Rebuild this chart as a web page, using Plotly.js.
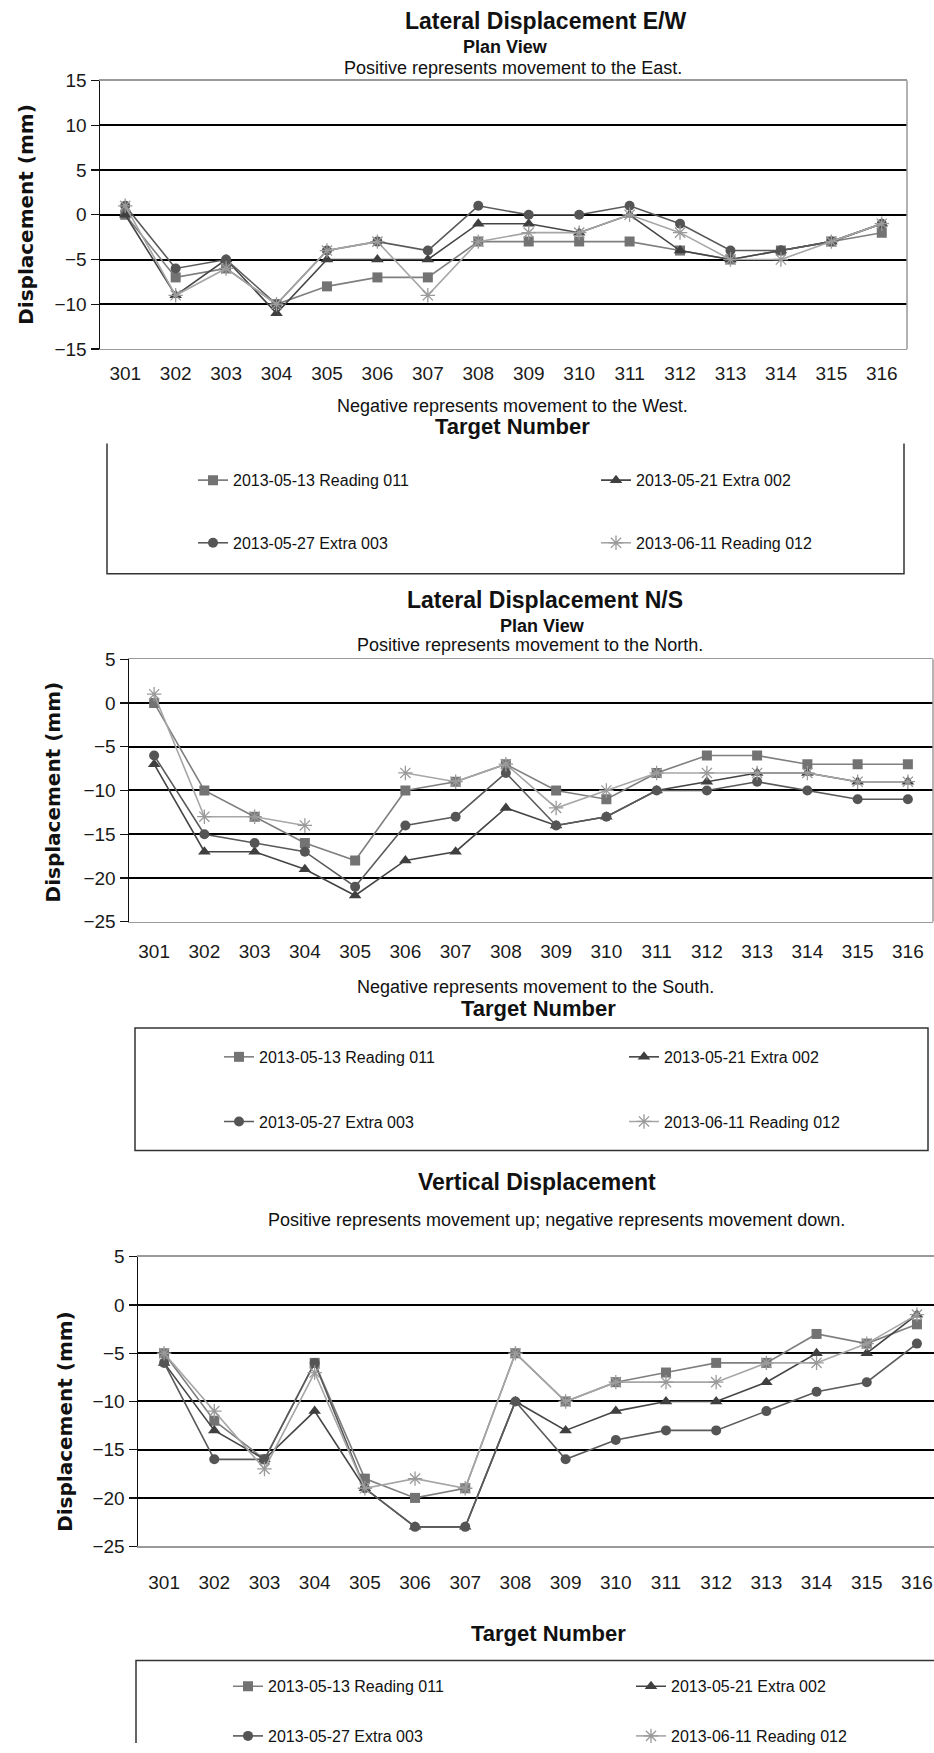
<!DOCTYPE html>
<html>
<head>
<meta charset="utf-8">
<script src="https://cdn.plot.ly/plotly-3.0.1.min.js"></script>
<style>
html,body{margin:0;padding:0;background:#fff;}
#chart{width:934px;height:1753px;}
</style>
</head>
<body>
<div id="chart"></div>
<script>
// ---------- DATA ----------
const targets = ['301','302','303','304','305','306','307','308','309','310','311','312','313','314','315','316'];
const seriesNames = ['2013-05-13 Reading 011','2013-05-21 Extra 002','2013-05-27 Extra 003','2013-06-11 Reading 012'];

// Lateral Displacement E/W (mm)
const ewReading011 = [0,-7,-6,-10,-8,-7,-7,-3,-3,-3,-3,-4,-5,-4,-3,-2];
const ewExtra002   = [0,-9,-5,-11,-5,-5,-5,-1,-1,-2,0,-4,-5,-4,-3,-1];
const ewExtra003   = [1,-6,-5,-10,-4,-3,-4,1,0,0,1,-1,-4,-4,-3,-1];
const ewReading012 = [1,-9,-6,-10,-4,-3,-9,-3,-2,-2,0,-2,-5,-5,-3,-1];

// Lateral Displacement N/S (mm)
const nsReading011 = [0,-10,-13,-16,-18,-10,-9,-7,-10,-11,-8,-6,-6,-7,-7,-7];
const nsExtra002   = [-7,-17,-17,-19,-22,-18,-17,-12,-14,-13,-10,-9,-8,-8,-9,-9];
const nsExtra003   = [-6,-15,-16,-17,-21,-14,-13,-8,-14,-13,-10,-10,-9,-10,-11,-11];
const nsReading012 = [1,-13,-13,-14,null,-8,-9,-7,-12,-10,-8,-8,-8,-8,-9,-9];

// Vertical Displacement (mm)
const vReading011 = [-5,-12,-16,-6,-18,-20,-19,-5,-10,-8,-7,-6,-6,-3,-4,-2];
const vExtra002   = [-6,-13,-16,-11,-19,-23,-23,-10,-13,-11,-10,-10,-8,-5,-5,-1];
const vExtra003   = [-6,-16,-16,-6,-19,-23,-23,-10,-16,-14,-13,-13,-11,-9,-8,-4];
const vReading012 = [-5,-11,-17,-7,-19,-18,-19,-5,-10,-8,-8,-8,-6,-6,-4,-1];

// ---------- STYLE / LAYOUT ----------
const W = 934, H = 1753;
const px = v => v / W;
const py = v => 1 - v / H;

const styles = [
  {symbol:'square',  size:10, color:'#737373', line:'#7f7f7f', lw:0},
  {symbol:'triangle-up', size:11, color:'#3f3f3f', line:'#454545', lw:0},
  {symbol:'circle',  size:10, color:'#555555', line:'#5a5a5a', lw:0},
  {symbol:'asterisk-open', size:12, color:'#9a9a9a', line:'#a6a6a6', lw:1.3}
];

const charts = [
  {series:[ewReading011, ewExtra002, ewExtra003, ewReading012], xa:'x', ya:'y', legends:['legend','legend2','legend3','legend4']},
  {series:[nsReading011, nsExtra002, nsExtra003, nsReading012], xa:'x2', ya:'y2', legends:['legend5','legend6','legend7','legend8']},
  {series:[vReading011, vExtra002, vExtra003, vReading012], xa:'x3', ya:'y3', legends:['legend9','legend10','legend11','legend12']}
];

const traces = [];
charts.forEach(c => {
  c.series.forEach((vals, i) => {
    const s = styles[i];
    traces.push({
      type:'scatter', mode:'lines+markers',
      x: targets, y: vals, name: seriesNames[i],
      xaxis: c.xa, yaxis: c.ya, legend: c.legends[i],
      line:{color:s.line, width:1.6},
      marker:{symbol:s.symbol, size:s.size, color:s.color,
              line:{color:s.color, width: s.lw || 0}},
      connectgaps:false
    });
  });
});

const tickFont = {family:'Liberation Sans, Arial, sans-serif', size:19, color:'#1a1a1a'};

function xAxis(l, r, range, anchor, standoff){
  return {domain:[px(l), px(r)], anchor:anchor, type:'category', range:range,
    showgrid:false, zeroline:false, showline:true, linecolor:'#9a9a9a', linewidth:1.5, mirror:true,
    ticks:'', tickfont:tickFont, ticklabelstandoff:standoff, fixedrange:true};
}
function yAxis(top, bottom, range, anchor){
  return {domain:[py(bottom), py(top)], anchor:anchor, range:range, dtick:5, tick0:0,
    showgrid:true, gridcolor:'#000', gridwidth:2, zeroline:false,
    showline:true, linecolor:'#111', linewidth:1.5,
    ticks:'outside', ticklen:8, tickcolor:'#111', tickwidth:1.2,
    tickfont:tickFont, fixedrange:true};
}

const fBold = (s) => ({family:'Liberation Sans, Arial, sans-serif', size:s, color:'#111', weight:'bold'});
const fReg = (s) => ({family:'Liberation Sans, Arial, sans-serif', size:s, color:'#111'});
const fYT = {family:'DejaVu Sans, sans-serif', size:20, color:'#111', weight:'bold'};

function ann(text, x, y, font, angle){
  const a = {text:text, x:px(x), y:py(y), xref:'paper', yref:'paper', showarrow:false,
    xanchor:'center', yanchor:'middle', font:font};
  if (angle) a.textangle = angle;
  return a;
}

const annotations = [
  ann('Lateral Displacement E/W', 545, 21, fBold(23)),
  ann('Plan View', 505, 47, fBold(18)),
  ann('Positive represents movement to the East.', 513, 68, fReg(18)),
  ann('Negative represents movement to the West.', 512, 408, fReg(18)),
  ann('Target Number', 512, 429, fBold(22)),
  ann('Displacement (mm)', 26, 216, fYT, -90),

  ann('Lateral Displacement N/S', 545, 603, fBold(23)),
  ann('Plan View', 542, 630, fBold(18)),
  ann('Positive represents movement to the North.', 530, 649, fReg(18)),
  ann('Negative represents movement to the South.', 535, 993, fReg(18)),
  ann('Target Number', 538, 1014, fBold(22)),
  ann('Displacement (mm)', 53, 797, fYT, -90),

  ann('Vertical Displacement', 537, 1189, fBold(23)),
  ann('Positive represents movement up; negative represents movement down.', 556, 1227, fReg(18)),
  ann('Target Number', 548, 1643, fBold(22)),
  ann('Displacement (mm)', 65, 1430, fYT, -90)
];

const boxLine = {color:'#333', width:1.5};
const shapes = [
  // right borders of plot areas
  {type:'line', xref:'x domain', yref:'y domain', x0:1, x1:1, y0:0, y1:1, line:{color:'#9a9a9a', width:1.5}},
  {type:'line', xref:'x2 domain', yref:'y2 domain', x0:1, x1:1, y0:0, y1:1, line:{color:'#9a9a9a', width:1.5}},
  // legend box 1 (left, bottom, right)
  {type:'path', xref:'paper', yref:'paper', line:boxLine,
   path:`M ${px(107)} ${py(446)} L ${px(107)} ${py(577)} L ${px(904)} ${py(577)} L ${px(904)} ${py(446)}`},
  // legend box 2
  {type:'rect', xref:'paper', yref:'paper', x0:px(135), x1:px(928), y0:py(1157), y1:py(1034), line:boxLine},
  // legend box 3 (top and left, runs off the page)
  {type:'path', xref:'paper', yref:'paper', line:boxLine,
   path:`M ${px(136)} ${py(1753)} L ${px(136)} ${py(1670)} L ${px(934)} ${py(1670)}`}
];

const legFont = {family:'Liberation Sans, Arial, sans-serif', size:16, color:'#111'};
function leg(xText, y){
  return {x:px(xText - 40), y:py(y), xanchor:'left', yanchor:'middle', orientation:'h',
    bgcolor:'rgba(0,0,0,0)', borderwidth:0, font:legFont, itemclick:false, itemdoubleclick:false};
}

const layout = {
  width:W, height:H, margin:{l:0, r:0, t:0, b:0},
  paper_bgcolor:'#fff', plot_bgcolor:'#fff', showlegend:true,
  xaxis: xAxis(100, 907, [-0.5, 15.5], 'y', 7),
  yaxis: yAxis(81, 351, [-15, 15], 'x'),
  xaxis2: xAxis(129, 933, [-0.5, 15.5], 'y2', 12),
  yaxis2: yAxis(663, 927, [-25, 5], 'x2'),
  xaxis3: xAxis(138, 934, [-0.52, 15.34], 'y3', 19),
  yaxis3: yAxis(1264, 1555, [-25, 5], 'x3'),
  legend: leg(233, 483),  legend2: leg(636, 483),
  legend3: leg(233, 546), legend4: leg(636, 546),
  legend5: leg(259, 1063), legend6: leg(664, 1063),
  legend7: leg(259, 1128), legend8: leg(664, 1128),
  legend9: leg(268, 1696), legend10: leg(671, 1696),
  legend11: leg(268, 1746), legend12: leg(671, 1746),
  annotations: annotations,
  shapes: shapes
};

Plotly.newPlot('chart', traces, layout, {staticPlot:true, displayModeBar:false});
</script>
</body>
</html>
